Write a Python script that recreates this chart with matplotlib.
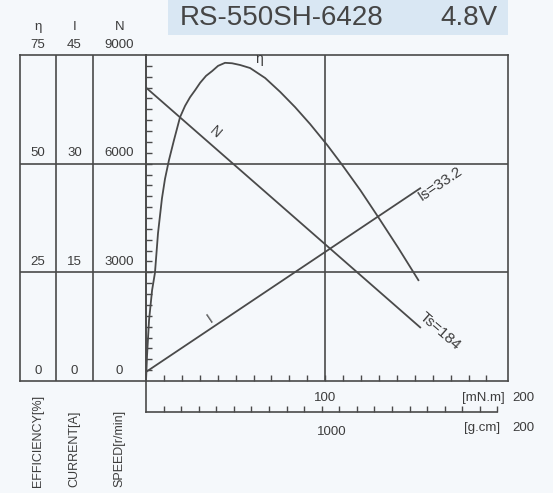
import numpy as np
import matplotlib
matplotlib.use("Agg")
import matplotlib.pyplot as plt
from matplotlib.patches import Rectangle
from matplotlib.transforms import blended_transform_factory

# ---------- data ----------
torque_eff = [0, 0.6, 1.7, 3.4, 5.0, 6.7, 8.9, 10.6, 12.8, 15.6, 19.0, 21.8,
              24.6, 27.4, 30.2, 33.5, 36.9, 40.2, 44.1, 48.0, 52.5, 58.1, 66.5,
              74.9, 83.2, 91.6, 101.1, 109.5, 119.6, 129.6, 140.8, 152]
efficiency = [0, 6.0, 14.0, 20.9, 24.9, 34.0, 42.0, 46.5, 50.8, 55.4, 60.7, 63.3,
              65.3, 66.9, 68.6, 70.2, 71.3, 72.5, 73.2, 73.1, 72.7, 72.0, 69.7,
              66.5, 63.0, 59.1, 54.3, 49.7, 43.9, 37.7, 30.6, 23.2]
torque_lines = [0, 153]
speed = [8100, 1480]
current = [1.25, 26.6]

eff_ticks = [0, 25, 50, 75]
cur_ticks = [0, 15, 30, 45]
spd_ticks = [0, 3000, 6000, 9000]

# ---------- style ----------
W, H = 553, 493
LC = "#4a4a4a"
TC = "#3c3c3c"
BG = "#f5f8fb"
FONT = "Liberation Sans"
plt.rcParams.update({"font.family": [FONT, "DejaVu Sans"], "font.size": 9.5})

fig = plt.figure(figsize=(W / 100, H / 100), dpi=100, facecolor=BG)

def fx(px):
    return px / W

def fy(py):
    return 1 - py / H

X0, X1, Y0, Y1 = 146, 508, 381, 55   # plot frame in pixels
XL = 20                              # left edge of scale panel

# title band
fig.patches.append(Rectangle((fx(168), fy(35)), fx(508) - fx(168), fy(0) - fy(35),
                             transform=fig.transFigure, fc="#d9e7f3", ec="none"))
fig.text(fx(180), fy(25), "RS-550SH-6428", fontsize=20, color="#454545", va="baseline")
fig.text(fx(440), fy(25), "4.8V", fontsize=20, color="#454545", va="baseline")

# ---------- main plot ----------
ax = fig.add_axes([fx(X0), fy(Y0), fx(X1) - fx(X0), fy(Y1) - fy(Y0)])
ax.set_facecolor("none")
ax.set_xlim(0, 202)
ax.set_ylim(0, 75)
for s in ax.spines.values():
    s.set_color(LC); s.set_linewidth(1.2)
ax.set_xticks(np.arange(10, 200, 10))
ax.set_yticks(np.arange(2.5, 75, 2.5))
ax.tick_params(direction="in", length=4, width=1, color=LC,
               labelbottom=False, labelleft=False)
ax.axhline(25, color=LC, lw=1.2)
ax.axhline(50, color=LC, lw=1.2)
ax.axvline(100, color=LC, lw=1.2)

ax.plot(torque_eff, efficiency, color=LC, lw=1.3, solid_joinstyle="round")

axI = ax.twinx(); axI.set_ylim(0, 45); axI.axis("off")
axN = ax.twinx(); axN.set_ylim(0, 9000); axN.axis("off")
axI.plot(torque_lines, current, color=LC, lw=1.3)
axN.plot(torque_lines, speed, color=LC, lw=1.3)

ax.text(63, 74.0, "η", fontsize=10, color=TC, ha="center", va="center")
axN.text(38.5, 6870, "N", fontsize=10, color=TC, ha="center", va="center", rotation=-41)
axI.text(35.8, 8.6, "I", fontsize=10, color=TC, ha="center", va="center", rotation=34)
axI.text(164, 27.2, "Is=33.2", fontsize=11, color=TC, ha="center", va="center",
         rotation=34, rotation_mode="anchor")
axN.text(164, 1380, "Ts=184", fontsize=11, color=TC, ha="center", va="center",
         rotation=-41, rotation_mode="anchor")

# ---------- left scale panel ----------
axL = fig.add_axes([fx(XL), fy(Y0), fx(X0) - fx(XL), fy(Y1) - fy(Y0)])
axL.set_facecolor("none")
axL.set_xlim(XL, X0)
axL.set_ylim(0, 75)
axL.set_xticks([]); axL.set_yticks([])
for s in axL.spines.values():
    s.set_color(LC); s.set_linewidth(1.2)
for xc in (56, 93):
    axL.axvline(xc, color=LC, lw=1.2)
axL.axhline(25, color=LC, lw=1.2)
axL.axhline(50, color=LC, lw=1.2)

cols = [(38, "η", eff_ticks, "EFFICIENCY[%]"),
        (74.5, "I", cur_ticks, "CURRENT[A]"),
        (119.5, "N", spd_ticks, "SPEED[r/min]")]
for xc, head, ticks, lab in cols:
    for v, yv in zip(ticks, eff_ticks):
        axL.annotate(str(v), (xc, yv), xytext=(0, 3), textcoords="offset points",
                     ha="center", va="bottom", fontsize=9.5, color=TC,
                     annotation_clip=False)
    fig.text(fx(xc), fy(27), head, ha="center", va="center", fontsize=9.5, color=TC)
    fig.text(fx(xc), fy(487), lab, ha="center", va="bottom", rotation=90,
             fontsize=9, color=TC)

# ---------- g.cm scale ----------
GY = 412
axG = fig.add_axes([fx(X0), fy(GY), fx(X1) - fx(X0), fy(Y0) - fy(GY)])
axG.set_facecolor("none")
axG.set_xlim(0, 202 / 0.0980665)
axG.set_yticks([])
for k in ("top", "right"):
    axG.spines[k].set_visible(False)
for k in ("bottom", "left"):
    axG.spines[k].set_color(LC); axG.spines[k].set_linewidth(1.2)
axG.spines["bottom"].set_bounds(0, 2000)
axG.set_xticks(np.arange(100, 2001, 100))
axG.tick_params(direction="in", length=4, width=1, color=LC, labelbottom=False)

tr = blended_transform_factory(ax.transData, fig.transFigure)
ax.text(100, fy(398), "100", transform=tr, ha="center", va="center",
        fontsize=9.5, color=TC)
fig.text(fx(505), fy(398), "[mN.m]", ha="right", va="center", fontsize=9.5, color=TC)
fig.text(fx(523), fy(398), "200", ha="center", va="center", fontsize=9.5, color=TC)
fig.text(fx(500), fy(428), "[g.cm]", ha="right", va="center", fontsize=9.5, color=TC)
fig.text(fx(523), fy(428), "200", ha="center", va="center", fontsize=9.5, color=TC)
fig.text(fx(332), fy(432), "1000", ha="center", va="center", fontsize=9.5, color=TC)

fig.savefig("out.png", dpi=100, facecolor=BG)
